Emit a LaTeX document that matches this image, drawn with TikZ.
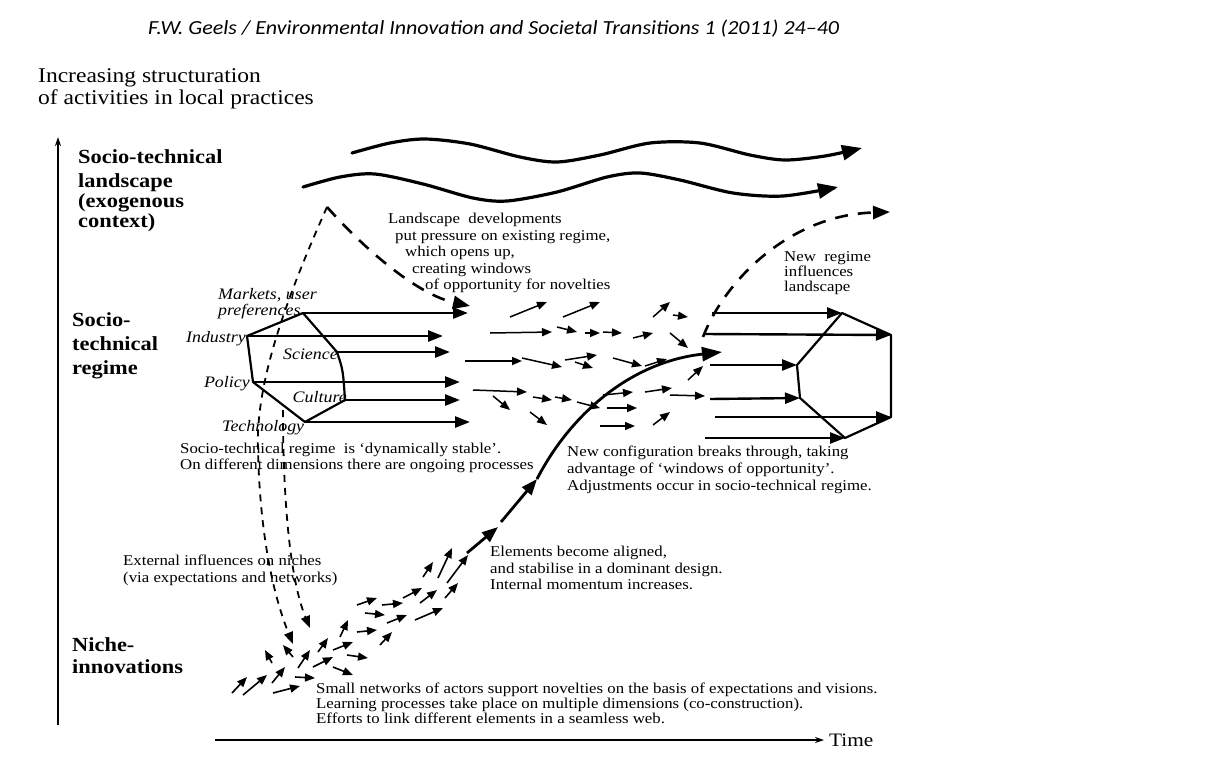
\documentclass[tikz,border=0pt]{standalone}
\usepackage{fontspec}
\setmainfont{Liberation Serif}[FakeStretch=1.12]
\newfontfamily\hdrfont{Carlito}[FakeStretch=1.1]
\usetikzlibrary{arrows.meta,positioning}

\tikzset{
  lvl/.style={font=\fontsize{20}{24}\selectfont\bfseries, align=left, inner sep=0pt},
  txt/.style={font=\fontsize{15}{16.5}\selectfont, align=left, inner sep=0pt},
  dimlbl/.style={font=\fontsize{16}{16}\selectfont\itshape, inner sep=0pt},
  hexedge/.style={line width=2.2pt, line join=round},
  regarr/.style={line width=2.6pt, -{Triangle[length=15pt,width=11pt]}},
  tinyarr/.style={line width=1.5pt, -{Triangle[length=10pt,width=8pt]}},
  thickarr/.style={line width=2.8pt, -{Triangle[length=16pt,width=12pt]}},
  wavearr/.style={line width=3.2pt, line cap=round, -{Triangle[length=20pt,width=15pt]}},
  nichedash/.style={line width=1.8pt, dash pattern=on 7pt off 6pt, -{Triangle[length=12pt,width=9pt]}},
  longdash/.style={line width=2.6pt, dash pattern=on 13pt off 10pt, -{Triangle[length=17pt,width=13pt]}},
  axisarr/.style={line width=1.3pt, -{Stealth[length=9pt,width=6pt]}},
}

\begin{document}
\begin{tikzpicture}[x=1pt, y=-1pt]
  \useasboundingbox[fill=white] (0,0) rectangle (1213,756);

  % header and axis titles
  \node[anchor=base west, font=\hdrfont\itshape\fontsize{20}{22}\selectfont, inner sep=0pt] (hdr) at (148,34) {F.W. Geels / Environmental Innovation and Societal Transitions 1 (2011) 24–40};
  \node[anchor=north west, align=left, font=\fontsize{21}{22}\selectfont, inner sep=0pt] (ytitle) at (38,68) {Increasing structuration\\of activities in local practices};

  % axes
  \coordinate (ybot) at (58,725);
  \coordinate (ytop) at (58,137);
  \draw[axisarr] (ybot) -- (ytop);
  \coordinate (xleft) at (215,740);
  \node[anchor=base west, font=\fontsize{19}{22}\selectfont, inner sep=0pt] (time) at (829,746) {Time};
  \draw[axisarr] (xleft) -- ([xshift=-5pt]time.west |- xleft);

  % level labels
  \node[lvl, anchor=north west] (lsclbl) at (78,149) {Socio-technical\\landscape\\[-4pt](exogenous\\[-4pt]context)};
  \node[lvl, anchor=north west] (reglbl) at (72,312) {Socio-\\technical\\regime};
  \node[lvl, anchor=north west] (nichelbl) at (72,637) {Niche-\\[-2pt]innovations};

  % landscape trends
  \draw[wavearr] plot[smooth] coordinates {(352,153) (390,143) (425,139) (470,144) (520,157) (557,162) (600,155) (650,143) (700,143) (750,155) (785,160) (825,156) (862,148)};
  \draw[wavearr] plot[smooth] coordinates {(303,187) (340,177) (375,174) (423,184) (473,198) (507,201) (557,192) (607,177) (640,173) (680,180) (733,193) (783,196) (838,187)};

  % existing regime
  \coordinate (mkt) at (303,313);
  \coordinate (ind) at (247,336);
  \coordinate (pol) at (253,382);
  \coordinate (tec) at (305,422);
  \coordinate (cul) at (345,400);
  \coordinate (sci) at (337,352);
  \draw[hexedge] (ind) -- (mkt) -- (sci) .. controls (343,370) .. (cul) -- (tec) -- (pol) -- cycle;

  \node[dimlbl, anchor=north west, align=left] (mktlbl) at (218,288) {Markets, user\\preferences};
  \node[dimlbl, anchor=base east] (indlbl) at (246,342) {Industry};
  \node[dimlbl, anchor=base east] (scilbl) at (338,359) {Science};
  \node[dimlbl, anchor=base east] (pollbl) at (250,387) {Policy};
  \node[dimlbl, anchor=base east] (cullbl) at (347,402) {Culture};
  \node[dimlbl, anchor=base west] (teclbl) at (222,431) {Technology};

  \coordinate (mktE) at (468,313);
  \coordinate (indE) at (443,336);
  \coordinate (sciE) at (450,352);
  \coordinate (polE) at (460,382);
  \coordinate (culE) at (460,400);
  \coordinate (tecE) at (470,422);
  \foreach \v in {mkt,ind,sci,pol,cul,tec}
    \draw[regarr] (\v) -- (\v E);

  % new regime
  \coordinate (ntop) at (842,313);
  \coordinate (nru) at (891,335);
  \coordinate (nrl) at (891,417);
  \coordinate (nbot) at (845,438);
  \coordinate (nll) at (800,398);
  \coordinate (nlu) at (797,365);
  \draw[hexedge] (ntop) -- (nru) -- (nrl) -- (nbot) -- (nll) -- (nlu) -- cycle;

  \coordinate (ntopS) at (712,313);
  \coordinate (nruS) at (705,334);
  \coordinate (nluS) at (710,365);
  \coordinate (nllS) at (710,399);
  \coordinate (nrlS) at (715,417);
  \coordinate (nbotS) at (705,438);
  \foreach \v in {ntop,nru,nlu,nll,nrl,nbot}
    \draw[regarr, line width=2.4pt] (\v S) -- (\v);

  % breakthrough of the niche
  \coordinate (al1) at (467,553);
  \coordinate (al2) at (498,527);
  \coordinate (al3) at (501,522);
  \coordinate (brkS) at (537,479);
  \coordinate (brkE) at (722,352);
  \draw[thickarr] (al1) -- (al2);
  \draw[thickarr] (al3) -- (brkS);
  \draw[thickarr, -{Triangle[length=20pt,width=14pt]}] (brkS) .. controls (570,415) and (630,362) .. (brkE);

  % dashed influences
  \coordinate (peak) at (327,207);
  \coordinate (mid1) at (258,450);
  \coordinate (nicheA) at (293,644);
  \draw[nichedash] (peak) .. controls (290,290) and (255,380) .. (mid1) .. controls (260,540) and (275,600) .. (nicheA);
  \coordinate (cultS) at (283,410);
  \coordinate (nicheB) at (310,628);
  \draw[nichedash] (cultS) .. controls (283,500) and (290,580) .. (nicheB);
  \coordinate (pressE) at (470,306);
  \draw[longdash] (peak) .. controls (370,255) and (420,295) .. (pressE);
  \coordinate (feedS) at (703,337);
  \coordinate (feedE) at (890,212);
  \draw[longdash] (feedS) .. controls (725,280) and (790,215) .. (feedE);

  % small arrows between the regimes
  \foreach \ax/\ay/\bx/\by in {510/317/547/302, 563/317/600/302, 490/333/552/332,
      557/327/577/332, 585/333/600/333, 603/332/622/333, 633/338/653/333,
      653/317/670/302, 673/315/688/317, 670/333/688/348, 465/361/522/361,
      522/358/562/367, 565/360/597/355, 575/362/593/368, 613/358/642/366,
      473/390/527/392, 533/397/552/400, 555/397/572/400, 493/396/510/410,
      530/412/547/425, 577/402/600/408, 603/395/633/392, 607/408/637/408,
      600/426/635/426, 645/392/672/388, 670/395/705/396, 653/425/670/412,
      688/380/703/366, 645/366/667/359}
    \draw[tinyarr] (\ax,\ay) -- (\bx,\by);

  % small arrows in the niche
  \foreach \ax/\ay/\bx/\by in {232/693/247/677, 243/695/267/675, 272/683/285/667,
      273/693/300/686, 295/677/315/678, 272/663/265/650, 293/657/283/645,
      298/668/310/650, 313/667/333/657, 333/667/353/675, 318/652/328/638,
      333/650/353/642, 347/655/368/658, 340/637/348/620, 357/632/377/630,
      380/645/392/632, 357/605/377/598, 365/613/385/615, 382/605/403/603,
      387/623/407/615, 403/598/422/588, 415/620/443/608, 420/603/437/590,
      445/598/458/583, 423/577/433/562, 438/578/452/548, 447/583/468/555}
    \draw[tinyarr, line width=1.6pt] (\ax,\ay) -- (\bx,\by);

  % explanations
  \node[txt, anchor=north west] (devtxt) at (388,213) {Landscape\ \ developments\\\hspace*{7pt}put pressure on existing regime,\\\hspace*{17pt}which opens up,\\\hspace*{24pt}creating windows\\\hspace*{37pt}of opportunity for novelties};
  \node[txt, anchor=north west, font=\fontsize{15}{15}\selectfont] (newregtxt) at (784,251) {New\ \ regime\\influences\\landscape};
  \node[txt, anchor=north west, font=\fontsize{15}{16}\selectfont] (stabtxt) at (180,443) {Socio-technical regime\ \ is ‘dynamically stable’.\\On different dimensions there are ongoing processes};
  \node[txt, anchor=north west, font=\fontsize{15}{17}\selectfont] (breaktxt) at (567,446) {New configuration breaks through, taking\\advantage of ‘windows of opportunity’.\\Adjustments occur in socio-technical regime.};
  \node[txt, anchor=north west] (aligntxt) at (490,546) {Elements become aligned,\\and stabilise in a dominant design.\\Internal momentum increases.};
  \node[txt, anchor=north west, font=\fontsize{15}{17}\selectfont] (exttxt) at (123,555) {External influences on niches\\(via expectations and networks)};
  \node[txt, anchor=north west, font=\fontsize{15}{15}\selectfont] (smalltxt) at (316,683) {Small networks of actors support novelties on the basis of expectations and visions.\\Learning processes take place on multiple dimensions (co-construction).\\Efforts to link different elements in a seamless web.};
\end{tikzpicture}
\end{document}
